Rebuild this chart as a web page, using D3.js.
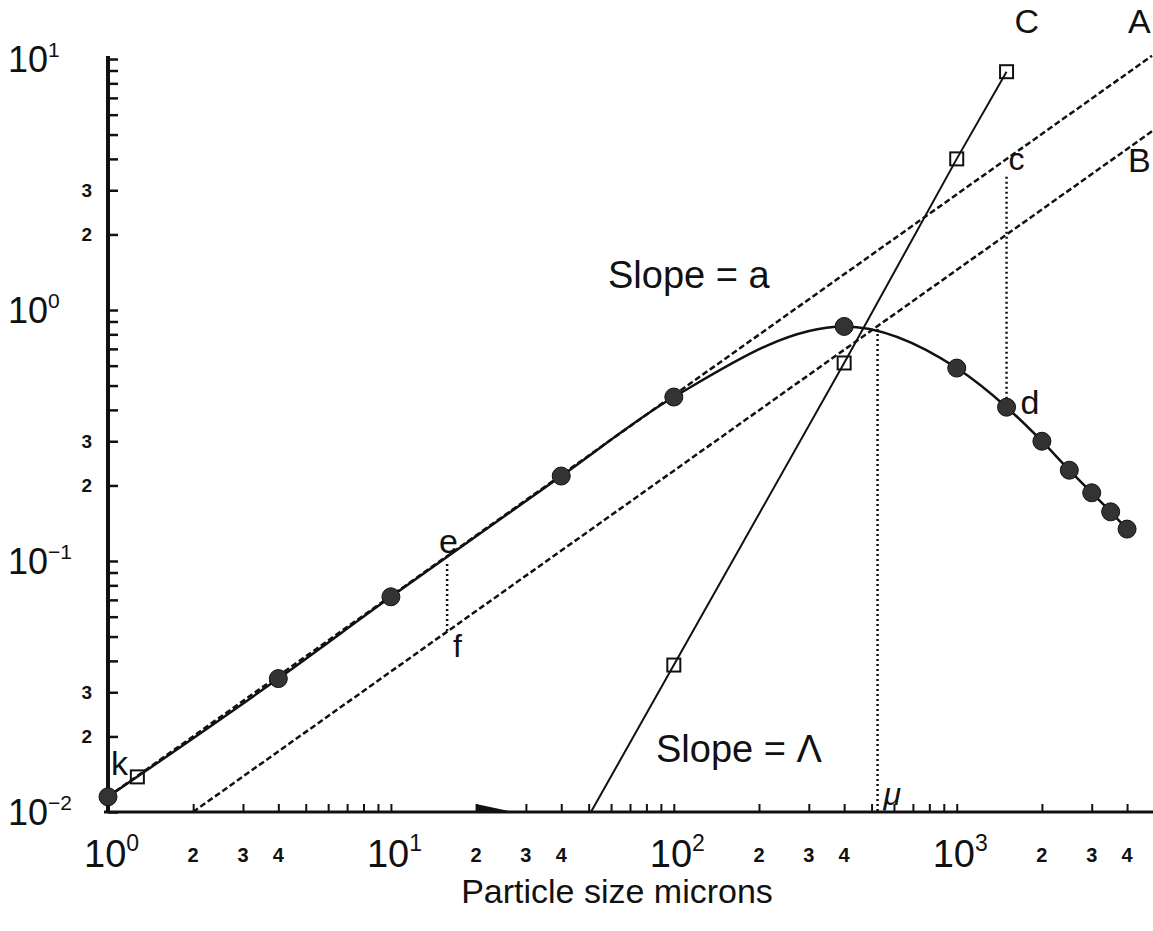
<!DOCTYPE html>
<html>
<head>
<meta charset="utf-8">
<script src="https://cdn.jsdelivr.net/npm/d3@7"></script>
<style>
  body { margin: 0; background: #fff; }
  text { font-family: "Liberation Sans", "DejaVu Sans", sans-serif; fill: #111; }
</style>
</head>
<body>
<script>
// size of the picture
const WIDTH = 1153, HEIGHT = 931;

// measured points (filled circles): particle size (microns) vs value
const sizeMicrons = [1, 4, 10, 40, 100, 400, 1000, 1500, 2000, 2500, 3000, 3500, 4000];
const measured = [0.0115, 0.034, 0.072, 0.218, 0.45, 0.86, 0.587, 0.41, 0.30, 0.23, 0.187, 0.157, 0.134];

// curve C (open squares)
const squareX = [100, 400, 1000, 1500];
const squareY = [0.0385, 0.615, 4.0, 8.9];

// k0 marker (open square at the start of the curve)
const k0X = [1.27];
const k0Y = [0.0138];

// asymptote A: y = k0 * x^a ; B = A / 2
const k0 = 0.0115;
const slopeA = 0.8;
const bFactor = 0.5;
const lineEnd = 4900;

// vertical markers
const efX = 15.8;
const cdX = 1500;
const muX = 525;
const muTop = 0.84;

// the odd wedge on the x axis
const wedgeX = [20, 27];

// ticks
const xMajor = [1, 10, 100, 1000];
const xMinor = [2, 3, 4, 5, 6, 7, 8, 9, 20, 30, 40, 50, 60, 70, 80, 90,
                200, 300, 400, 500, 600, 700, 800, 900, 2000, 3000, 4000];
const xSmallLabels = [[2, '2'], [3, '3'], [4, '4'], [20, '2'], [30, '3'], [40, '4'],
                      [200, '2'], [300, '3'], [400, '4'], [2000, '2'], [3000, '3'], [4000, '4']];
const xMajorLabels = [[1, '0'], [10, '1'], [100, '2'], [1000, '3']];
const yMajorLabels = [[10, '1'], [1, '0'], [0.1, '\u22121'], [0.01, '\u22122']];
const ySmallLabels = [[3, '3'], [2, '2'], [0.3, '3'], [0.2, '2'], [0.03, '3'], [0.02, '2']];

const svg = d3.select('body').append('svg')
    .attr('width', WIDTH)
    .attr('height', HEIGHT);

const x = d3.scaleLog().domain([1, lineEnd]).range([108, 1152]);
const y = d3.scaleLog().domain([0.01, 10]).range([812, 59]);

const yTicks = [];
[0.01, 0.1, 1].forEach(d => { for (let k = 1; k < 10; k++) yTicks.push(d * k); });
yTicks.push(10);

// x axis (ticks pointing up)
svg.append('g')
    .attr('transform', `translate(0,${y(0.01)})`)
    .call(d3.axisBottom(x).tickValues(xMajor.concat(xMinor)).tickSize(-8).tickSizeOuter(0).tickFormat(''))
    .call(g => g.select('.domain').attr('stroke', '#111').attr('stroke-width', 3)
        .attr('d', `M${x(1) - 4},0H${WIDTH}`))
    .call(g => g.selectAll('.tick line').attr('stroke', '#111').attr('stroke-width', 2));

// y axis (ticks pointing right)
svg.append('g')
    .attr('transform', `translate(${x(1)},0)`)
    .call(d3.axisLeft(y).tickValues(yTicks).tickSize(-10).tickSizeOuter(0).tickFormat(''))
    .call(g => g.select('.domain').attr('stroke', '#111').attr('stroke-width', 4)
        .attr('d', `M0,${y(10) - 3}V${y(0.01) + 1}`))
    .call(g => g.selectAll('.tick line').attr('stroke', '#111').attr('stroke-width', 2.5));

// tick labels
const powLabel = (sel, base, sup, bigSize, supSize) => {
    sel.append('tspan').attr('font-size', bigSize).text(base);
    sel.append('tspan').attr('font-size', supSize).attr('dy', -bigSize * 0.42).text(sup);
};

xMajorLabels.forEach(([v, p]) => {
    const t = svg.append('text')
        .attr('x', x(v) - 24).attr('y', y(0.01) + 55);
    powLabel(t, '10', p, 38, 23);
});
xSmallLabels.forEach(([v, s]) => {
    svg.append('text')
        .attr('x', x(v)).attr('y', y(0.01) + 50)
        .attr('text-anchor', 'middle')
        .attr('font-size', 20).attr('font-weight', 'bold')
        .text(s);
});
yMajorLabels.forEach(([v, p]) => {
    const t = svg.append('text')
        .attr('x', 8).attr('y', y(v) + 13);
    powLabel(t, '10', p, 36, 21);
});
ySmallLabels.forEach(([v, s]) => {
    svg.append('text')
        .attr('x', 92).attr('y', y(v) + 7)
        .attr('text-anchor', 'end')
        .attr('font-size', 19).attr('font-weight', 'bold')
        .text(s);
});

svg.append('text')
    .attr('x', 617).attr('y', 903)
    .attr('text-anchor', 'middle')
    .attr('font-size', 34)
    .text('Particle size microns');

// lines
const plot = svg.append('g');
const line = d3.line().x(d => x(d[0])).y(d => y(d[1]));

const lineA = x0 => k0 * Math.pow(x0, slopeA);
const lineB = x0 => bFactor * lineA(x0);

// A and B asymptotes (dashed)
const bStart = Math.pow(0.01 / (bFactor * k0), 1 / slopeA);
plot.append('path')
    .attr('d', line([[1, lineA(1)], [lineEnd, lineA(lineEnd)]]))
    .attr('fill', 'none').attr('stroke', '#111').attr('stroke-width', 2.5)
    .attr('stroke-dasharray', '6,3');
plot.append('path')
    .attr('d', line([[bStart, 0.01], [lineEnd, lineB(lineEnd)]]))
    .attr('fill', 'none').attr('stroke', '#111').attr('stroke-width', 2.5)
    .attr('stroke-dasharray', '6,3');

// line C: extended down to the x axis from the first two squares
const slopeC = Math.log(squareY[1] / squareY[0]) / Math.log(squareX[1] / squareX[0]);
const cStart = squareX[0] * Math.pow(0.01 / squareY[0], 1 / slopeC);
plot.append('path')
    .attr('d', line([[cStart, 0.01]].concat(squareX.map((d, i) => [d, squareY[i]]))))
    .attr('fill', 'none').attr('stroke', '#111').attr('stroke-width', 2);

// measured curve
const curvePts = sizeMicrons.map((d, i) => [d, measured[i]]);
const smooth = d3.line().x(d => x(d[0])).y(d => y(d[1])).curve(d3.curveMonotoneX);
plot.append('path')
    .attr('d', smooth(curvePts))
    .attr('fill', 'none').attr('stroke', '#111').attr('stroke-width', 2.5);

// dotted verticals
const dotted = (xv, y1, y2) => plot.append('line')
    .attr('x1', x(xv)).attr('x2', x(xv))
    .attr('y1', y(y1)).attr('y2', y(y2))
    .attr('stroke', '#111').attr('stroke-width', 2.5)
    .attr('stroke-dasharray', '2,3');
dotted(efX, lineA(efX) * 0.93, lineB(efX));
dotted(cdX, lineA(cdX) * 0.85, measured[sizeMicrons.indexOf(cdX)]);
dotted(muX, muTop, 0.01);

// wedge on the axis
plot.append('path')
    .attr('d', `M${x(wedgeX[0])},${y(0.01)}L${x(wedgeX[0])},${y(0.01) - 8}L${x(wedgeX[1])},${y(0.01)}Z`)
    .attr('fill', '#111');

// markers
plot.selectAll('circle.pt')
    .data(curvePts)
    .join('circle')
    .attr('class', 'pt')
    .attr('cx', d => x(d[0])).attr('cy', d => y(d[1]))
    .attr('r', 9)
    .attr('fill', '#333').attr('stroke', '#111').attr('stroke-width', 1);

const sq = 13;
plot.selectAll('rect.sq')
    .data(squareX.map((d, i) => [d, squareY[i]]).concat(k0X.map((d, i) => [d, k0Y[i]])))
    .join('rect')
    .attr('class', 'sq')
    .attr('x', d => x(d[0]) - sq / 2).attr('y', d => y(d[1]) - sq / 2)
    .attr('width', sq).attr('height', sq)
    .attr('fill', 'none').attr('stroke', '#111').attr('stroke-width', 2);

// annotations
const note = (txt, xx, yy, size, extra) => {
    const t = svg.append('text').attr('x', xx).attr('y', yy).attr('font-size', size).text(txt);
    if (extra) extra(t);
    return t;
};
note('Slope = a', 608, 288, 38);
note('Slope = \u039B', 656, 762, 38);
note('A', x(lineEnd) - 24, 33, 34);
note('B', x(lineEnd) - 24, 172, 34);
note('C', x(squareX[3]) + 8, 33, 34);
note('c', x(cdX) + 2, 170, 32);
note('d', x(cdX) + 14, 414, 34);
note('e', x(efX) - 8, 553, 34);
note('f', x(efX) + 6, 657, 32);
note('k', x(1) + 3, 775, 34);
note('\u03BC', x(muX) + 6, 805, 32, t => t.attr('font-style', 'italic'));
</script>
</body>
</html>
